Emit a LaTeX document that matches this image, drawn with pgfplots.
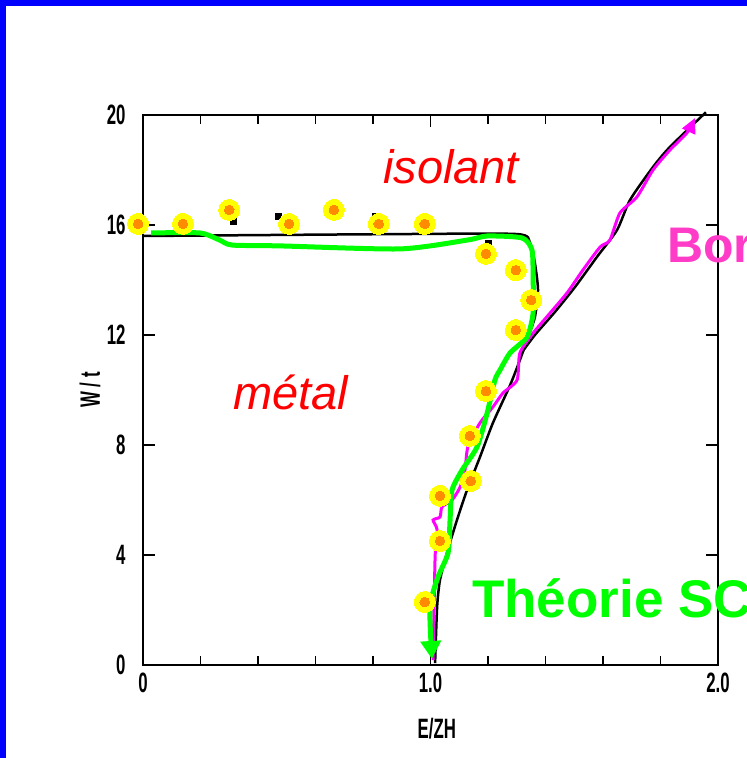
\documentclass[border=0pt]{standalone}
\usepackage{fontspec}
\setmainfont{Liberation Sans}
\newfontfamily\tickfont[FakeStretch=0.6]{Liberation Sans}
\usepackage{pgfplots}
\pgfplotsset{compat=1.18}
\usepackage{pgfplotstable}
\usetikzlibrary{arrows.meta}
\definecolor{bgblue}{RGB}{0,0,255}
\definecolor{mygreen}{RGB}{0,255,0}
\definecolor{mymag}{RGB}{255,0,255}
\definecolor{borpink}{RGB}{255,60,200}
\definecolor{dotorange}{RGB}{255,140,0}
\definecolor{dotyellow}{RGB}{255,255,0}

\pgfplotstableread{
x y
-0.017 16.04
0.139 16.04
0.300 16.55
0.508 16.04
0.664 16.55
0.820 16.04
0.980 16.04
1.193 14.95
1.297 14.36
1.350 13.27
1.297 12.18
1.193 9.96
1.137 8.33
1.140 6.69
1.033 6.15
1.033 4.51
0.980 2.29
}\points

\pgfplotstableread{
x y
0.028 15.71
0.198 15.71
0.267 15.45
0.310 15.27
0.477 15.24
0.894 15.13
1.127 15.45
1.197 15.60
1.318 15.53
1.353 15.09
1.357 14.00
1.357 12.80
1.336 11.93
1.277 11.35
1.242 10.73
1.224 10.36
1.197 9.16
1.162 7.93
1.110 7.09
1.075 6.36
1.068 5.27
1.061 4.07
1.026 3.20
0.998 2.11
1.005 0.22
}\green

\pgfplotstableread{
x y
1.009 0.18
1.016 3.93
1.023 4.91
1.009 5.27
1.033 5.38
1.040 5.75
1.075 6.00
1.103 6.47
1.120 7.09
1.130 7.93
1.172 8.80
1.217 9.38
1.252 9.89
1.301 10.36
1.311 11.35
1.357 12.07
1.416 12.80
1.475 13.53
1.530 14.36
1.590 15.20
1.624 15.45
1.659 16.44
1.718 17.02
1.774 18.00
1.833 18.73
1.892 19.35
1.920 19.89
}\magenta

\pgfplotstableread{
x y
0.000 15.60
0.894 15.67
1.301 15.67
1.346 15.35
1.363 14.62
1.374 13.64
1.363 12.65
1.336 11.82
1.311 11.09
1.277 10.18
1.217 8.80
1.172 7.56
1.127 6.36
1.092 5.27
1.057 4.07
1.033 3.09
1.023 2.11
1.016 0.07
}\blackA

\pgfplotstableread{
x y
1.958 20.10
1.833 18.84
1.774 18.11
1.694 16.91
1.649 15.82
1.579 14.84
1.503 13.75
1.433 12.84
1.363 12.00
1.311 11.27
}\blackB

\begin{document}
\begin{tikzpicture}[x=1pt,y=1pt]
\useasboundingbox (0,0) rectangle (747,758);
\clip (0,0) rectangle (747,758);
\fill[bgblue] (0,0) rectangle (747,758);
\fill[white] (6,0) rectangle (747,752);
\begin{axis}[
  at={(143pt,93pt)}, anchor=south west,
  scale only axis, width=575pt, height=550pt,
  xmin=0, xmax=2, ymin=0, ymax=20,
  clip=false,
  axis line style={line width=1.5pt, black},
  tick style={line width=1.5pt, black},
  major tick length=12pt, minor tick length=9pt,
  tick align=inside,
  xtick={0,1,2}, xticklabels={0,1.0,2.0},
  minor xtick={0.2,0.4,0.6,0.8,1.2,1.4,1.6,1.8},
  ytick={0,4,8,12,16,20}, yticklabels={0,4,8,12,16,20},
  ticklabel style={font=\tickfont\bfseries\fontsize{28}{28}\selectfont},
  xticklabel style={yshift=-4pt},
  yticklabel style={xshift=-14pt},
  xlabel={E/ZH}, ylabel={W / t},
  label style={font=\tickfont\bfseries\fontsize{28}{28}\selectfont},
  xlabel style={at={(axis description cs:0.511,-0.115)}, anchor=center},
  ylabel style={at={(axis description cs:-0.092,0.5)}, anchor=center},
]
\addplot[black, line width=2.5pt, smooth, tension=0.4] table {\blackA};
\addplot[black, line width=2.5pt, smooth, tension=0.4] table {\blackB};
\addplot[only marks, mark=square*, mark size=3pt, black] coordinates {(0.313,16.15) (0.47,16.33) (0.807,16.33) (1.20,15.35)};
\addplot[dotyellow, only marks, mark=*, mark size=10.5pt, mark options={fill=dotyellow, draw=dotyellow, line width=0pt}] table {\points};
\addplot[dotorange, only marks, mark=*, mark size=4.8pt, mark options={fill=dotorange, draw=dotorange, line width=0pt}] table {\points};
\addplot[mymag, line width=3pt, smooth, tension=0.4, -{Triangle[length=15pt,width=14pt]}] table {\magenta};
\addplot[mygreen, line width=5pt, smooth, tension=0.4, -{Triangle[length=18pt,width=20pt]}] table {\green};
\end{axis}
\node[anchor=base west, inner sep=0, text=red, font=\itshape\fontsize{47}{47}\selectfont] at (383,574) {isolant};
\node[anchor=base west, inner sep=0, text=red, font=\itshape\fontsize{47}{47}\selectfont] at (233,348) {métal};
\node[anchor=base west, inner sep=0, text=mygreen, font=\bfseries\fontsize{53}{53}\selectfont] at (472,140) {Théorie SC};
\node[anchor=base west, inner sep=0, text=borpink, font=\bfseries\fontsize{50}{50}\selectfont] at (667,495) {Born};
\end{tikzpicture}
\end{document}
